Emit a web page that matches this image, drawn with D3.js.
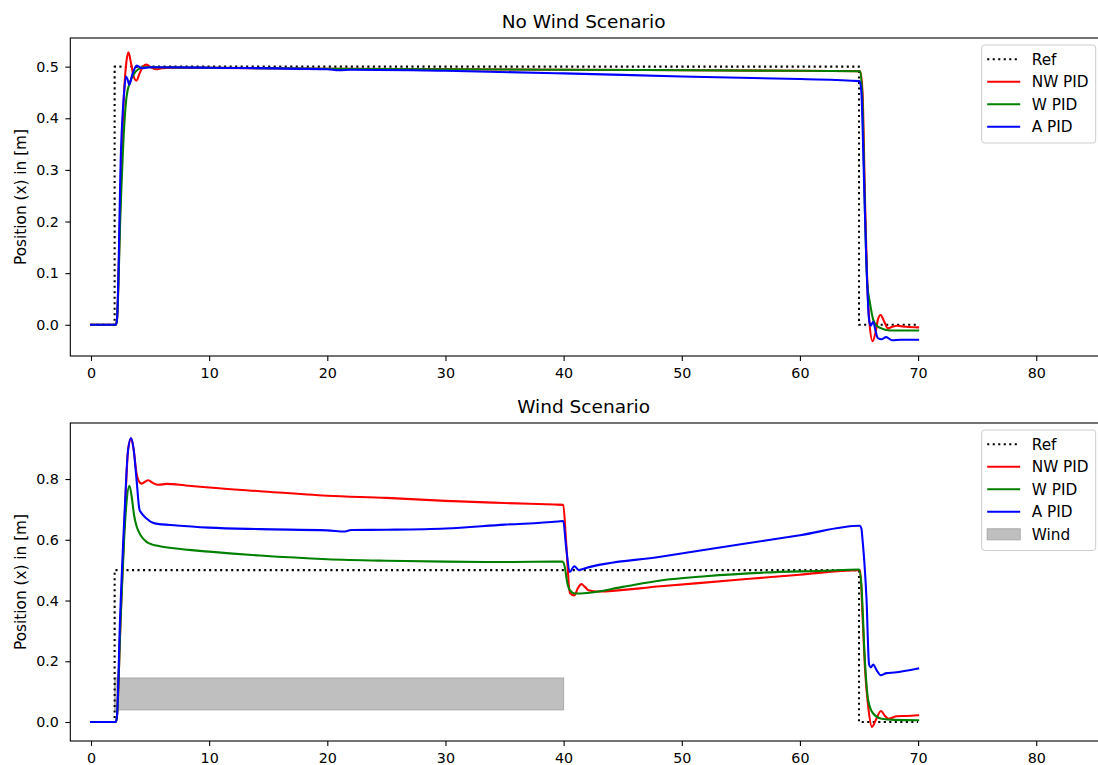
<!DOCTYPE html>
<html>
<head>
<meta charset="utf-8">
<script src="https://cdn.jsdelivr.net/npm/d3@7/dist/d3.min.js"></script>
<style>
  body { margin: 0; background: #fff; }
  svg { display: block; font-family: "DejaVu Sans", sans-serif; }
</style>
</head>
<body>
<svg id="chart" width="1098" height="765"></svg>
<script>
// ---------------- data ----------------
const xTicks = [0, 10, 20, 30, 40, 50, 60, 70, 80];
const yTicksTop = [0.0, 0.1, 0.2, 0.3, 0.4, 0.5];
const yTicksBottom = [0.0, 0.2, 0.4, 0.6, 0.8];
const seriesNames = ["Ref", "NW PID", "W PID", "A PID"];
const titles = ["No Wind Scenario", "Wind Scenario"];

const refTop = [[0,0],[2,0],[2,0.5],[65,0.5],[65,0],[70,0]];
const nwTop = [[0,0],[2.1,0],[2.2,0.01],[2.5,0.25],[2.8,0.45],[3.0,0.51],[3.17,0.528],[3.4,0.505],[3.6,0.482],[3.85,0.473],[4.1,0.486],[4.4,0.5],[4.7,0.504],[5.1,0.498],[5.5,0.495],[6,0.497],[7,0.498],[20,0.496],[40,0.494],[60,0.492],[65.1,0.491],[65.3,0.45],[65.5,0.25],[65.7,0.08],[65.9,0.0],[66.15,-0.032],[66.4,-0.015],[66.6,0.01],[66.83,0.019],[67.1,0.008],[67.45,-0.007],[67.8,-0.004],[68.2,-0.002],[69,-0.004],[70,-0.005]];
const wTop = [[0,0],[2.1,0],[2.2,0.01],[2.5,0.22],[2.8,0.38],[3.0,0.44],[3.3,0.47],[3.6,0.485],[4.0,0.495],[4.5,0.499],[5,0.499],[10,0.498],[20,0.496],[40,0.494],[60,0.492],[65.1,0.491],[65.3,0.43],[65.5,0.22],[65.7,0.08],[65.93,0.042],[66.2,0.01],[66.5,-0.002],[66.8,-0.006],[67.3,-0.01],[68,-0.011],[70,-0.011]];
const aTop = [[0,0],[2.1,0],[2.2,0.01],[2.54,0.34],[2.8,0.45],[2.96,0.481],[3.1,0.475],[3.24,0.465],[3.5,0.485],[3.87,0.502],[4.3,0.497],[5,0.499],[10,0.498],[20,0.495],[21,0.493],[22,0.494],[30,0.492],[40,0.487],[50,0.481],[60,0.476],[65.05,0.472],[65.2,0.45],[65.4,0.3],[65.6,0.14],[65.85,0.01],[66.0,-0.002],[66.2,0.006],[66.4,-0.012],[66.6,-0.026],[66.9,-0.028],[67.3,-0.024],[67.8,-0.03],[68.5,-0.029],[70,-0.029]];

const refBottom = [[0,0],[2,0],[2,0.5],[65,0.5],[65,0],[70,0]];
const nwBottom = [[0,0],[2.1,0],[2.2,0.02],[2.5,0.33],[2.9,0.72],[3.15,0.9],[3.39,0.933],[3.6,0.9],[3.85,0.82],[4.1,0.79],[4.3,0.785],[4.6,0.792],[4.85,0.796],[5.2,0.788],[5.7,0.781],[6.4,0.784],[8,0.779],[10,0.772],[14.3,0.76],[20,0.745],[25,0.738],[30,0.728],[35,0.721],[39.2,0.716],[39.97,0.715],[40.2,0.6],[40.53,0.425],[40.9,0.417],[41.2,0.44],[41.5,0.454],[41.8,0.445],[42.1,0.434],[42.9,0.43],[48.2,0.447],[55,0.469],[60,0.485],[64.9,0.5],[65.1,0.5],[65.3,0.35],[65.5,0.18],[65.78,0.05],[66.1,-0.016],[66.4,0.005],[66.86,0.036],[67.2,0.02],[67.5,0.011],[68.2,0.019],[69,0.02],[70,0.022]];
const wBottom = [[0,0],[2.1,0],[2.2,0.02],[2.5,0.33],[2.8,0.6],[3.0,0.72],[3.25,0.778],[3.45,0.74],[3.65,0.68],[3.87,0.643],[4.2,0.615],[4.7,0.593],[5.2,0.584],[5.83,0.579],[7,0.572],[10,0.561],[14.3,0.548],[20,0.536],[25,0.531],[30,0.528],[35,0.527],[39.9,0.528],[40.1,0.51],[40.3,0.46],[40.53,0.434],[40.96,0.423],[42,0.425],[45,0.445],[48.2,0.466],[52,0.48],[57,0.492],[62,0.498],[65,0.502],[65.2,0.45],[65.5,0.2],[65.78,0.071],[66.2,0.028],[66.9,0.011],[68,0.007],[70,0.006]];
const aBottom = [[0,0],[2.1,0],[2.2,0.02],[2.45,0.33],[2.88,0.72],[3.1,0.88],[3.39,0.935],[3.6,0.9],[3.85,0.8],[4.1,0.7],[4.29,0.687],[4.7,0.67],[5.4,0.654],[7.25,0.647],[10,0.64],[14.3,0.635],[20,0.631],[21.5,0.627],[22,0.632],[25,0.633],[30,0.637],[35,0.65],[39.5,0.66],[39.97,0.662],[40.2,0.58],[40.53,0.494],[40.9,0.513],[41.3,0.5],[41.7,0.505],[48.2,0.544],[55,0.585],[60,0.615],[65.05,0.646],[65.2,0.637],[65.3,0.6],[65.64,0.4],[65.85,0.19],[66.0,0.18],[66.2,0.189],[66.5,0.17],[66.83,0.154],[67.33,0.161],[68,0.163],[70,0.176]];

const windSpan = { x0: 2, x1: 40, y0: 0.04, y1: 0.145 };

// ---------------- layout ----------------
const svg = d3.select("#chart");
const colors = { "Ref": "black", "NW PID": "#ff0000", "W PID": "#008000", "A PID": "#0000ff" };
const LW = 2.08;
const TICK_FS = 14.3;
const LEG_FS = 15.3;
const LABEL_FS = 15.3;
const TITLE_FS = 18.5;

const xDomain = [-1.752, 85.65];
const xRange = [70.3, 1103];

const panels = [
  { top: 38, bottom: 356, yDomain: [-0.0605, 0.5555], yTicks: yTicksTop, fmt: d3.format(".1f"),
    series: [refTop, nwTop, wTop, aTop], title: titles[0], wind: false },
  { top: 423, bottom: 741, yDomain: [-0.0625, 0.9845], yTicks: yTicksBottom, fmt: d3.format(".1f"),
    series: [refBottom, nwBottom, wBottom, aBottom], title: titles[1], wind: true }
];

panels.forEach((p, pi) => {
  const x = d3.scaleLinear().domain(xDomain).range(xRange);
  const y = d3.scaleLinear().domain(p.yDomain).range([p.bottom, p.top]);
  const g = svg.append("g");

  const clipId = "clip" + pi;
  svg.append("clipPath").attr("id", clipId).append("rect")
    .attr("x", xRange[0]).attr("y", p.top).attr("width", xRange[1] - xRange[0]).attr("height", p.bottom - p.top);

  const plot = g.append("g").attr("clip-path", `url(#${clipId})`);

  if (p.wind) {
    plot.append("rect")
      .attr("x", x(windSpan.x0)).attr("width", x(windSpan.x1) - x(windSpan.x0))
      .attr("y", y(windSpan.y1)).attr("height", y(windSpan.y0) - y(windSpan.y1))
      .attr("fill", "#bfbfbf").attr("stroke", "#a9a9a9").attr("stroke-width", 1);
  }

  p.series.forEach((data, si) => {
    const name = seriesNames[si];
    const line = d3.line().x(d => x(d[0])).y(d => y(d[1]))
      .curve(si === 0 ? d3.curveLinear : d3.curveMonotoneX);
    const path = plot.append("path").datum(data)
      .attr("d", line)
      .attr("fill", "none")
      .attr("stroke", colors[name])
      .attr("stroke-width", LW)
      .attr("stroke-linejoin", "round");
    if (si === 0) path.attr("stroke-dasharray", "2.08 3.43");
    else path.attr("stroke-linecap", "square");
  });

  // axes
  const xAxis = d3.axisBottom(x).tickValues(xTicks).tickSize(4.9).tickPadding(6.5).tickFormat(d3.format("d"));
  const xg = g.append("g").attr("transform", `translate(0,${p.bottom})`).call(xAxis);
  const yAxis = d3.axisLeft(y).tickValues(p.yTicks).tickSize(4.9).tickPadding(6.5).tickFormat(p.fmt);
  const yg = g.append("g").attr("transform", `translate(${xRange[0]},0)`).call(yAxis);
  [xg, yg].forEach(ax => {
    ax.select(".domain").remove();
    ax.selectAll("line").attr("stroke", "black").attr("stroke-width", 1.1);
    ax.selectAll("text").attr("font-size", TICK_FS).attr("fill", "black").attr("font-family", "DejaVu Sans");
  });

  // spines
  g.append("rect")
    .attr("x", xRange[0]).attr("y", p.top)
    .attr("width", xRange[1] - xRange[0]).attr("height", p.bottom - p.top)
    .attr("fill", "none").attr("stroke", "black").attr("stroke-width", 1.1);

  // title
  g.append("text").attr("x", (xRange[0] + xRange[1]) / 2 - 3).attr("y", p.top - 10)
    .attr("text-anchor", "middle").attr("font-size", TITLE_FS).text(p.title);

  // y label
  g.append("text")
    .attr("transform", `translate(25.5,${(p.top + p.bottom) / 2}) rotate(-90)`)
    .attr("text-anchor", "middle").attr("font-size", LABEL_FS).text("Position (x) in [m]");

  // legend
  const entries = seriesNames.map(n => ({ name: n, type: "line" }));
  if (p.wind) entries.push({ name: "Wind", type: "patch" });
  const lx = 981.7, ly = p.top + 7, lw = 114, rowH = 22.5;
  const lh = 12 + entries.length * rowH - 4;
  const leg = g.append("g");
  leg.append("rect").attr("x", lx).attr("y", ly).attr("width", lw).attr("height", lh)
    .attr("rx", 3).attr("fill", "white").attr("fill-opacity", 0.8)
    .attr("stroke", "#cccccc").attr("stroke-width", 1);
  entries.forEach((e, i) => {
    const cy = ly + 14.3 + i * rowH;
    if (e.type === "line") {
      const l = leg.append("line").attr("x1", lx + 5.5).attr("x2", lx + 38.5)
        .attr("y1", cy).attr("y2", cy)
        .attr("stroke", colors[e.name]).attr("stroke-width", LW);
      if (e.name === "Ref") l.attr("stroke-dasharray", "2.08 3.43");
    } else {
      leg.append("rect").attr("x", lx + 5.5).attr("y", cy - 5.5).attr("width", 33).attr("height", 11)
        .attr("fill", "#bfbfbf").attr("stroke", "#a9a9a9").attr("stroke-width", 1);
    }
    leg.append("text").attr("x", lx + 50).attr("y", cy).attr("dy", "0.36em")
      .attr("font-size", LEG_FS).text(e.name);
  });
});
</script>
</body>
</html>
